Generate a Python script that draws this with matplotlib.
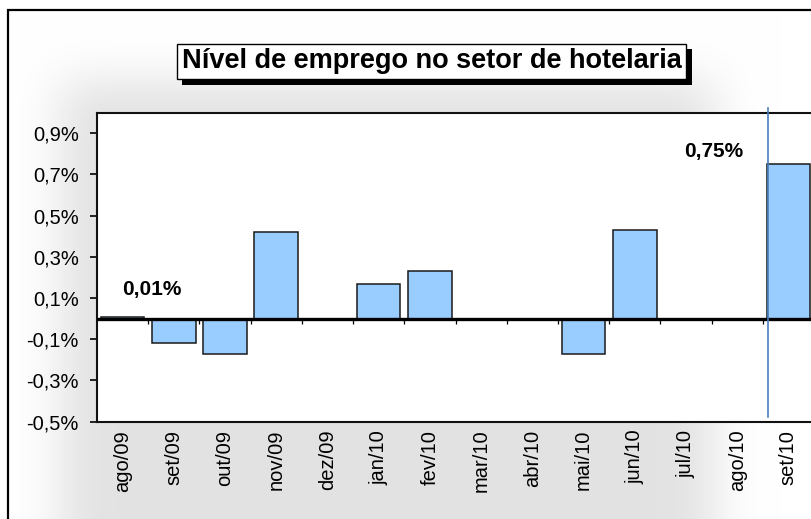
import numpy as np
import matplotlib

matplotlib.use("Agg")
import matplotlib.pyplot as plt
from matplotlib import patheffects
from matplotlib.patches import Rectangle

plt.rcParams["font.family"] = ["Liberation Sans", "DejaVu Sans"]

# data
months = ["ago/09", "set/09", "out/09", "nov/09", "dez/09", "jan/10", "fev/10",
          "mar/10", "abr/10", "mai/10", "jun/10", "jul/10", "ago/10", "set/10"]
values = [0.01, -0.12, -0.17, 0.42, 0.0, 0.17, 0.23,
          0.0, 0.0, -0.17, 0.43, 0.0, 0.0, 0.75]
yticks = [-0.5, -0.3, -0.1, 0.1, 0.3, 0.5, 0.7, 0.9]
title = "Nível de emprego no setor de hotelaria"
callouts = [(0.57, 0.14, "0,01%"), (11.54, 0.81, "0,75%")]
marker_x = 12.6

W, H = 811, 519
fig = plt.figure(figsize=(W / 100, H / 100), dpi=100)
fig.patch.set_facecolor("white")


# soft grey halo behind the plot (blurred rectangle)
def box_blur(a, r, axis):
    pad = [(0, 0), (0, 0)]
    pad[axis] = (r + 1, r)
    p = np.pad(a, pad)
    c = np.cumsum(p, axis=axis)
    if axis == 0:
        return (c[2 * r + 1:] - c[:-2 * r - 1]) / (2 * r + 1)
    return (c[:, 2 * r + 1:] - c[:, :-2 * r - 1]) / (2 * r + 1)


extra = 120
mask = np.zeros((H + extra, W))
mask[80:, 60:715] = 1.0
for _ in range(3):
    mask = box_blur(mask, 22, 0)
    mask = box_blur(mask, 22, 1)
mask = mask[:H]
shade = 1.0 - 0.11 * mask
rgb = np.dstack([shade, shade, shade])
fig.figimage(rgb, 0, 0, origin="upper", zorder=0)

# outer chart frame (cut off at right and bottom)
fig.patches.append(Rectangle((8 / W, -0.2), 1.2, 1.2 - 10 / H,
                             transform=fig.transFigure, fill=False,
                             edgecolor="black", linewidth=1.6, zorder=1))

ax = fig.add_axes([97 / W, 1 - 421.5 / H, 717 / W, 308.8 / H])
ax.set_zorder(3)
ax.set_facecolor("white")
x = np.arange(len(months))
ax.bar(x, values, width=0.85, color="#99ccff", edgecolor="#1a1a1a",
       linewidth=1.1, zorder=2)
ax.axhline(0, color="black", linewidth=2.4, zorder=3)
ax.vlines(x[:-1] + 0.5, 0, -0.025, color="black", linewidth=0.9, zorder=3)

ax.set_xlim(-0.5, len(months) - 0.5)
ax.set_ylim(-0.5, 1.0)
ax.set_yticks(yticks)
ax.set_yticklabels([f"{v:.1f}%".replace(".", ",") for v in yticks])
ax.set_xticks(x)
ax.set_xticklabels(months, rotation=90)
ax.tick_params(axis="y", direction="out", length=5, width=1.2, pad=8,
               labelsize=14.5, colors="black")
ax.tick_params(axis="x", length=0, pad=6, labelsize=14.5)
for s in ax.spines.values():
    s.set_color("#111111")
    s.set_linewidth(1.5)

for cx, cy, txt in callouts:
    ax.text(cx, cy, txt, ha="center", va="center", fontsize=15,
            fontweight="bold", zorder=4)

ax.plot([marker_x, marker_x], [-0.48, 1.025], color="#4a7ebb", linewidth=1.2,
        clip_on=False, zorder=5)

t = fig.text(431.5 / W, 1 - 61.5 / H, title, ha="center", va="center",
             fontsize=19.5, fontweight="bold", zorder=5,
             bbox=dict(boxstyle="square,pad=0.18", facecolor="white",
                       edgecolor="black", linewidth=1.0))
t.get_bbox_patch().set_path_effects([
    patheffects.SimplePatchShadow(offset=(4, -4), shadow_rgbFace="black", alpha=1.0),
    patheffects.Normal(),
])

fig.savefig("out.png", dpi=100)
